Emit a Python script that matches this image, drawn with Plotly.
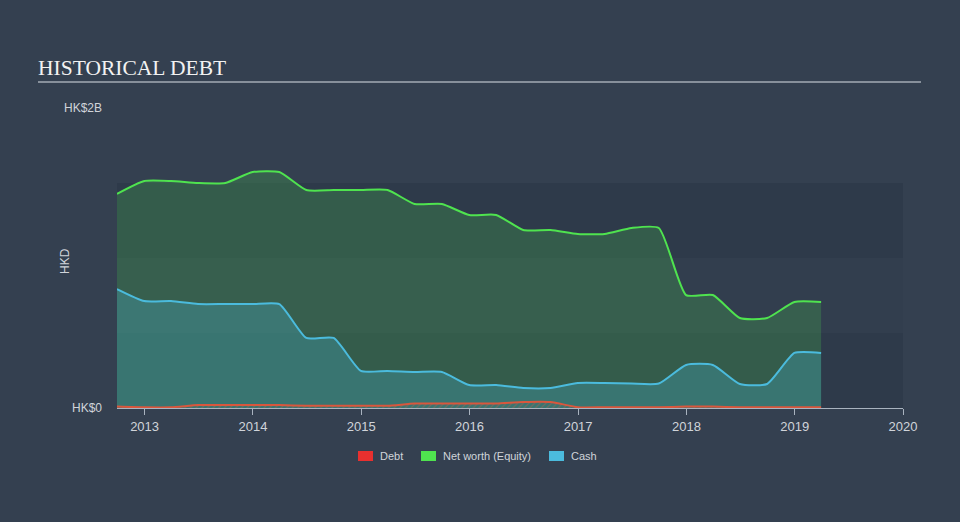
import plotly.graph_objects as go

# quarter-end dates, Sep 2012 .. Mar 2019
dates = [
    "2012-09-30", "2012-12-31", "2013-03-31", "2013-06-30", "2013-09-30", "2013-12-31",
    "2014-03-31", "2014-06-30", "2014-09-30", "2014-12-31", "2015-03-31", "2015-06-30",
    "2015-09-30", "2015-12-31", "2016-03-31", "2016-06-30", "2016-09-30", "2016-12-31",
    "2017-03-31", "2017-06-30", "2017-09-30", "2017-12-31", "2018-03-31", "2018-06-30",
    "2018-09-30", "2018-12-31", "2019-03-31",
]

# values in HK$ billions
equity = [
    1.427, 1.513, 1.513, 1.50, 1.50, 1.573,
    1.573, 1.453, 1.453, 1.453, 1.453, 1.36,
    1.36, 1.287, 1.287, 1.187, 1.187, 1.16,
    1.16, 1.20, 1.20, 0.753, 0.753, 0.60,
    0.60, 0.707, 0.707,
]
cash = [
    0.793, 0.713, 0.713, 0.693, 0.693, 0.693,
    0.693, 0.467, 0.467, 0.247, 0.247, 0.24,
    0.24, 0.153, 0.153, 0.133, 0.133, 0.167,
    0.167, 0.163, 0.163, 0.287, 0.287, 0.16,
    0.16, 0.367, 0.367,
]
debt = [
    0.010, 0.005, 0.005, 0.020, 0.020, 0.020,
    0.020, 0.015, 0.015, 0.015, 0.015, 0.030,
    0.030, 0.030, 0.030, 0.040, 0.040, 0.005,
    0.005, 0.005, 0.005, 0.010, 0.010, 0.005,
    0.005, 0.005, 0.005,
]

legend_names = ["Debt", "Net worth (Equity)", "Cash"]
legend_colors = ["#e8302f", "#4fe34f", "#4bbbdd"]

BG = "#344050"
TXT = "#d0d4da"
SMOOTH = 0.55

# plot area in pixels, used to place the hand-made legend / title rule
PL, PR, PT, PB = 117, 903, 108, 408


def px_x(px):
    return (px - PL) / (PR - PL)


def px_y(py):
    return (PB - py) / (PB - PT)


fig = go.Figure()

fig.add_trace(go.Scatter(
    x=dates, y=[v * 1e9 for v in equity], mode="lines",
    line=dict(color="#4fe34f", width=2, shape="spline", smoothing=SMOOTH),
    fill="tozeroy", fillcolor="rgba(72,200,80,0.24)",
    showlegend=False, hoverinfo="skip",
))
fig.add_trace(go.Scatter(
    x=dates, y=[v * 1e9 for v in cash], mode="lines",
    line=dict(color="#4bbbdd", width=2, shape="spline", smoothing=SMOOTH),
    fill="tozeroy", fillcolor="rgba(74,185,217,0.27)",
    showlegend=False, hoverinfo="skip",
))
fig.add_trace(go.Scatter(
    x=dates, y=[v * 1e9 for v in debt], mode="lines",
    line=dict(color="#d9573d", width=2, shape="spline", smoothing=SMOOTH),
    fill="tozeroy", fillcolor="rgba(0,0,0,0)",
    fillpattern=dict(shape="/", fgcolor="rgba(210,90,70,0.7)", size=4, solidity=0.3),
    showlegend=False, hoverinfo="skip",
))

# alternating background bands
bands = [(0, 0.5e9, "#2e3a4a"), (0.5e9, 1.0e9, "#323e4e"), (1.0e9, 1.5e9, "#2e3a4a")]
for y0, y1, c in bands:
    fig.add_shape(type="rect", xref="paper", yref="y", x0=0, x1=1, y0=y0, y1=y1,
                  fillcolor=c, line_width=0, layer="below")

# title underline
fig.add_shape(type="line", xref="paper", yref="paper",
              x0=px_x(38), x1=px_x(921), y0=px_y(82), y1=px_y(82),
              line=dict(color="#a3abb5", width=1.5))

fig.add_annotation(text="HKD", xref="paper", yref="paper",
                   x=px_x(65), xanchor="center", y=0.49, yanchor="middle",
                   textangle=-90, showarrow=False,
                   font=dict(size=12, color=TXT))

# legend: small rectangles with labels below the axis
legend_left = [358, 421, 549]
for name, color, left in zip(legend_names, legend_colors, legend_left):
    fig.add_shape(type="rect", xref="paper", yref="paper",
                  x0=px_x(left), x1=px_x(left + 15), y0=px_y(461), y1=px_y(451),
                  fillcolor=color, line_width=0)
    fig.add_annotation(text=name, xref="paper", yref="paper",
                       x=px_x(left + 20), xanchor="left", y=px_y(456), yanchor="middle",
                       showarrow=False, font=dict(size=11, color=TXT))

fig.update_layout(
    width=960, height=522,
    paper_bgcolor=BG, plot_bgcolor="rgba(0,0,0,0)",
    margin=dict(l=PL, r=960 - PR, t=PT, b=522 - PB),
    font=dict(family="Liberation Sans, Arial, sans-serif", color=TXT, size=13),
    title=dict(text="HISTORICAL DEBT", xref="container", yref="container",
               x=38 / 960, xanchor="left", y=1 - 67 / 522, yanchor="middle",
               font=dict(family="Liberation Serif, Times New Roman, serif",
                         size=21.5, color="#f2f2f2")),
    xaxis=dict(
        type="date", range=["2012-09-30", "2020-01-01"],
        dtick="M12", tick0="2013-01-01", tickformat="%Y",
        ticks="outside", ticklen=6, tickcolor="#a9b3bf",
        showline=True, linecolor="#a9b3bf", linewidth=1,
        showgrid=False, zeroline=False,
        tickfont=dict(size=13, color=TXT),
    ),
    yaxis=dict(
        range=[0, 2e9], tickmode="array", tickvals=[0, 2e9],
        ticktext=["HK$0", "HK$2B"], showgrid=False, zeroline=False,
        showline=False, ticks="", ticklabelstandoff=14,
        tickfont=dict(size=12, color=TXT),
    ),
    showlegend=False,
    hovermode=False,
)

fig.write_html(
    "out.html",
    config={"displayModeBar": False},
    post_script="document.body.style.margin='0';document.body.style.background='%s';" % BG,
)
